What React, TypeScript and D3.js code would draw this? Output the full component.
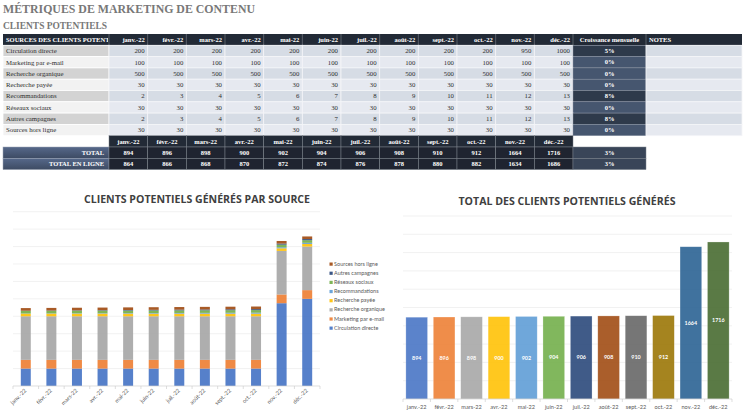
import * as d3 from "d3";

// Monthly categories
const months = [
  "janv.-22", "févr.-22", "mars-22", "avr.-22", "mai-22", "juin-22",
  "juil.-22", "août-22", "sept.-22", "oct.-22", "nov.-22", "déc.-22",
];

// Leads per source
const circulationDirecte = [200, 200, 200, 200, 200, 200, 200, 200, 200, 200, 950, 1000];
const marketingEmail = [100, 100, 100, 100, 100, 100, 100, 100, 100, 100, 100, 100];
const rechercheOrganique = [500, 500, 500, 500, 500, 500, 500, 500, 500, 500, 500, 500];
const recherchePayee = [30, 30, 30, 30, 30, 30, 30, 30, 30, 30, 30, 30];
const recommandations = [2, 3, 4, 5, 6, 7, 8, 9, 10, 11, 12, 13];
const reseauxSociaux = [30, 30, 30, 30, 30, 30, 30, 30, 30, 30, 30, 30];
const autresCampagnes = [2, 3, 4, 5, 6, 7, 8, 9, 10, 11, 12, 13];
const sourcesHorsLigne = [30, 30, 30, 30, 30, 30, 30, 30, 30, 30, 30, 30];

const sourceNames = [
  "Circulation directe", "Marketing par e-mail", "Recherche organique", "Recherche payée",
  "Recommandations", "Réseaux sociaux", "Autres campagnes", "Sources hors ligne",
];
const sourceValues = [
  circulationDirecte, marketingEmail, rechercheOrganique, recherchePayee,
  recommandations, reseauxSociaux, autresCampagnes, sourcesHorsLigne,
];
const sourceColors = [
  "#4472c4", "#ed7d31", "#a5a5a5", "#ffc000", "#5b9bd5", "#70ad47", "#264478", "#9e480e",
];
const monthlyGrowth = ["5%", "0%", "0%", "0%", "8%", "0%", "8%", "0%"];

// Totals
const totalLeads = [894, 896, 898, 900, 902, 904, 906, 908, 910, 912, 1664, 1716];
const onlineLeads = [864, 866, 868, 870, 872, 874, 876, 878, 880, 882, 1634, 1686];
const totalGrowth = "3%";
const onlineGrowth = "3%";
const totalBarColors = [
  "#4472c4", "#ed7d31", "#a5a5a5", "#ffc000", "#5b9bd5", "#70ad47",
  "#264478", "#9e480e", "#636363", "#997300", "#255e91", "#43682b",
];

const SERIF = "'Liberation Serif', 'DejaVu Serif', serif";
const SANS = "'Open Sans', 'Noto Sans', sans-serif";
const SMALL = "Lato, 'Open Sans', sans-serif";

const LeadsTable = () => {
  const x = d3.scaleBand<string>().domain(months).range([109, 573]);
  const y = d3.scaleBand<number>().domain(d3.range(12)).range([34, 169.6]);
  const h = y.bandwidth();
  const labelX0 = 3;
  const labelX1 = 109;
  const growthX0 = 573;
  const growthX1 = 646;
  const notesX1 = 742;
  const header = "#222a36";
  const textDark = "#2e2e2e";
  const fs = 6.8;
  const fsB = 6.5;

  return (
    <g fontFamily={SERIF}>
      <defs>
        <clipPath id="hdr-clip">
          <rect x={labelX0} y={34} width={labelX1 - labelX0 - 1} height={h} />
        </clipPath>
        <linearGradient id="total-grad" x1="0" x2="0" y1="0" y2="1">
          <stop offset="0" stopColor="#56688a" />
          <stop offset="1" stopColor="#3d4b63" />
        </linearGradient>
      </defs>

      <text x={3} y={13.3} fontSize={13.5} fontWeight="bold" fill="#787878" textLength={252} lengthAdjust="spacingAndGlyphs">
        MÉTRIQUES DE MARKETING DE CONTENU
      </text>
      <text x={3} y={29.3} fontSize={10} fontWeight="bold" fill="#787878" textLength={104} lengthAdjust="spacingAndGlyphs">
        CLIENTS POTENTIELS
      </text>

      {/* Header row */}
      <rect x={labelX0} y={y(0)} width={notesX1 - labelX0} height={h} fill={header} />
      <text x={6} y={y(0)! + h / 2 + 2.2} fontSize={fsB} fontWeight="bold" fill="#fff" clipPath="url(#hdr-clip)">
        SOURCES DES CLIENTS POTENTIELS
      </text>
      {months.map((m) => (
        <g key={m}>
          <line x1={x(m)} x2={x(m)} y1={y(0)} y2={y(0)! + h} stroke="#7d838c" strokeWidth={0.6} />
          <text x={x(m)! + x.bandwidth() - 3} y={y(0)! + h / 2 + 2.2} fontSize={fsB} fontWeight="bold" fill="#fff" textAnchor="end">
            {m}
          </text>
        </g>
      ))}
      <line x1={growthX0} x2={growthX0} y1={y(0)} y2={y(0)! + h} stroke="#7d838c" strokeWidth={0.6} />
      <line x1={growthX1} x2={growthX1} y1={y(0)} y2={y(0)! + h} stroke="#7d838c" strokeWidth={0.6} />
      <text x={(growthX0 + growthX1) / 2} y={y(0)! + h / 2 + 2.2} fontSize={fsB} fontWeight="bold" fill="#fff" textAnchor="middle">
        Croissance mensuelle
      </text>
      <text x={growthX1 + 3} y={y(0)! + h / 2 + 2.2} fontSize={fsB} fontWeight="bold" fill="#fff">
        NOTES
      </text>

      {/* Source rows */}
      {sourceNames.map((name, r) => {
        const ry = y(r + 1)!;
        const even = r % 2 === 0;
        const cellFill = even ? "#d6dce5" : "#e6e9f0";
        return (
          <g key={name}>
            <rect x={labelX0} y={ry} width={labelX1 - labelX0} height={h} fill={even ? "#d3d3d3" : "#f2f2f2"} stroke="#fff" strokeWidth={0.8} />
            <text x={6} y={ry + h / 2 + 2.3} fontSize={fs} fill={textDark}>
              {name}
            </text>
            {months.map((m, i) => (
              <g key={m}>
                <rect x={x(m)} y={ry} width={x.bandwidth()} height={h} fill={cellFill} stroke="#f4f5f8" strokeWidth={0.8} />
                <text x={x(m)! + x.bandwidth() - 3} y={ry + h / 2 + 2.3} fontSize={fs} fill={textDark} textAnchor="end">
                  {sourceValues[r][i]}
                </text>
              </g>
            ))}
            <rect x={growthX0} y={ry} width={growthX1 - growthX0} height={h} fill={monthlyGrowth[r] === "0%" ? "#46566f" : "#2e3a4b"} stroke="#8a93a3" strokeWidth={0.5} />
            <text x={(growthX0 + growthX1) / 2} y={ry + h / 2 + 2.2} fontSize={fsB} fontWeight="bold" fill="#fff" textAnchor="middle">
              {monthlyGrowth[r]}
            </text>
            <rect x={growthX1} y={ry} width={notesX1 - growthX1} height={h} fill={cellFill} stroke="#f4f5f8" strokeWidth={0.8} />
          </g>
        );
      })}

      {/* Month header above totals */}
      {months.map((m) => (
        <g key={"h2" + m}>
          <rect x={x(m)} y={y(9)} width={x.bandwidth()} height={h} fill={header} stroke="#7d838c" strokeWidth={0.5} />
          <text x={x(m)! + x.bandwidth() / 2} y={y(9)! + h / 2 + 2.2} fontSize={fsB} fontWeight="bold" fill="#fff" textAnchor="middle">
            {m}
          </text>
        </g>
      ))}

      {/* Total rows */}
      {[
        { label: "TOTAL", values: totalLeads, growth: totalGrowth },
        { label: "TOTAL EN LIGNE", values: onlineLeads, growth: onlineGrowth },
      ].map((row, k) => {
        const ry = y(10 + k)!;
        return (
          <g key={row.label}>
            <rect x={labelX0} y={ry} width={labelX1 - labelX0} height={h} fill="url(#total-grad)" stroke="#9aa3b3" strokeWidth={0.5} />
            <text x={labelX1 - 5} y={ry + h / 2 + 2.2} fontSize={fsB} fontWeight="bold" fill="#fff" textAnchor="end">
              {row.label}
            </text>
            {months.map((m, i) => (
              <g key={m}>
                <rect x={x(m)} y={ry} width={x.bandwidth()} height={h} fill="#1f2430" stroke="#7d838c" strokeWidth={0.5} />
                <text x={x(m)! + x.bandwidth() / 2} y={ry + h / 2 + 2.2} fontSize={fsB} fontWeight="bold" fill="#fff" textAnchor="middle">
                  {row.values[i]}
                </text>
              </g>
            ))}
            <rect x={growthX0} y={ry} width={growthX1 - growthX0} height={h} fill="#394558" stroke="#7d838c" strokeWidth={0.5} />
            <text x={(growthX0 + growthX1) / 2} y={ry + h / 2 + 2.2} fontSize={fsB} fontWeight="bold" fill="#fff" textAnchor="middle">
              {row.growth}
            </text>
          </g>
        );
      })}
    </g>
  );
};

const StackedChart = () => {
  const x = d3.scaleBand<string>().domain(months).range([13, 320]).paddingInner(0.61).paddingOuter(0.305);
  const band = d3.scaleBand<string>().domain(months).range([13, 320]);
  const yS = d3.scaleLinear().domain([0, 2000]).range([386, 211.7]);
  const rows = months.map((m, i) => {
    const r: Record<string, number | string> = { month: m };
    sourceNames.forEach((s, k) => (r[s] = sourceValues[k][i]));
    return r;
  });
  const series = d3.stack<Record<string, number | string>>().keys(sourceNames)(rows as any);

  return (
    <g>
      <text x={197} y={202.7} fontFamily={SANS} fontWeight="bold" fontSize={10.6} fill="#404040" textAnchor="middle" textLength={226} lengthAdjust="spacingAndGlyphs">
        CLIENTS POTENTIELS GÉNÉRÉS PAR SOURCE
      </text>
      {yS.ticks(10).filter((t) => t > 0).map((t) => (
        <line key={t} x1={13} x2={320} y1={yS(t)} y2={yS(t)} stroke="#ebebeb" strokeWidth={0.7} />
      ))}
      {series.map((s, k) => (
        <g key={s.key} fill={sourceColors[k]} fillOpacity={0.9}>
          {s.map((d, i) => (
            <rect key={i} x={x(months[i])} y={yS(d[1])} width={x.bandwidth()} height={yS(d[0]) - yS(d[1])} />
          ))}
        </g>
      ))}
      <line x1={13} x2={320} y1={386} y2={386} stroke="#d0d0d0" strokeWidth={0.7} />
      {[...months.map((m) => band(m)!), 320].map((t, i) => (
        <line key={i} x1={t} x2={t} y1={386} y2={389} stroke="#d0d0d0" strokeWidth={0.7} />
      ))}
      {months.map((m) => (
        <text
          key={m}
          transform={`translate(${band(m)! + band.bandwidth() / 2 + 1},${391}) rotate(-45)`}
          fontFamily={SMALL}
          fontSize={5.6}
          fill="#595959"
          textAnchor="end"
        >
          {m}
        </text>
      ))}
      {/* Legend, top entry is the last stacked series */}
      {sourceNames
        .map((n, k) => ({ n, k }))
        .reverse()
        .map(({ n, k }, j) => (
          <g key={n} transform={`translate(329.5,${265.7 + j * 9.15})`}>
            <rect x={0} y={-3.2} width={3.2} height={3.2} fill={sourceColors[k]} fillOpacity={0.9} />
            <text x={4.6} y={0} fontFamily={SMALL} fontSize={5.5} fill="#595959">
              {n}
            </text>
          </g>
        ))}
    </g>
  );
};

const TotalChart = () => {
  const x = d3.scaleBand<string>().domain(months).range([403, 732]).paddingInner(0.21).paddingOuter(0.105);
  const band = d3.scaleBand<string>().domain(months).range([403, 732]);
  const yT = d3.scaleLinear().domain([0, 2000]).range([399, 216]);

  return (
    <g>
      <text x={567} y={205} fontFamily={SANS} fontWeight="bold" fontSize={10.6} fill="#404040" textAnchor="middle" textLength={217} lengthAdjust="spacingAndGlyphs">
        TOTAL DES CLIENTS POTENTIELS GÉNÉRÉS
      </text>
      {yT.ticks(10).filter((t) => t > 0).map((t) => (
        <line key={t} x1={403} x2={732} y1={yT(t)} y2={yT(t)} stroke="#ebebeb" strokeWidth={0.7} />
      ))}
      {months.map((m, i) => (
        <g key={m}>
          <rect x={x(m)} y={yT(totalLeads[i])} width={x.bandwidth()} height={yT(0) - yT(totalLeads[i])} fill={totalBarColors[i]} fillOpacity={0.88} stroke="#ffffff" strokeOpacity={0.4} strokeWidth={0.6} />
          <text
            x={x(m)! + x.bandwidth() / 2}
            y={(yT(0) + yT(totalLeads[i])) / 2 + 1.8}
            fontFamily={SMALL}
            fontWeight="bold"
            fontSize={5.4}
            fill="#fff"
            textAnchor="middle"
          >
            {totalLeads[i]}
          </text>
        </g>
      ))}
      <line x1={403} x2={732} y1={399} y2={399} stroke="#d0d0d0" strokeWidth={0.7} />
      {[...months.map((m) => band(m)!), 732].map((t, i) => (
        <line key={i} x1={t} x2={t} y1={399} y2={402} stroke="#d0d0d0" strokeWidth={0.7} />
      ))}
      {months.map((m) => (
        <text key={m} x={band(m)! + band.bandwidth() / 2} y={408.5} fontFamily={SMALL} fontSize={5.6} fill="#595959" textAnchor="middle">
          {m}
        </text>
      ))}
    </g>
  );
};

export default function App() {
  return (
    <svg
      width={746}
      height={412}
      viewBox="0 0 746 412"
      style={{ position: "absolute", left: 0, top: 0, background: "#fff" }}
    >
      <rect width={746} height={412} fill="#fff" />
      <LeadsTable />
      <StackedChart />
      <TotalChart />
    </svg>
  );
}
